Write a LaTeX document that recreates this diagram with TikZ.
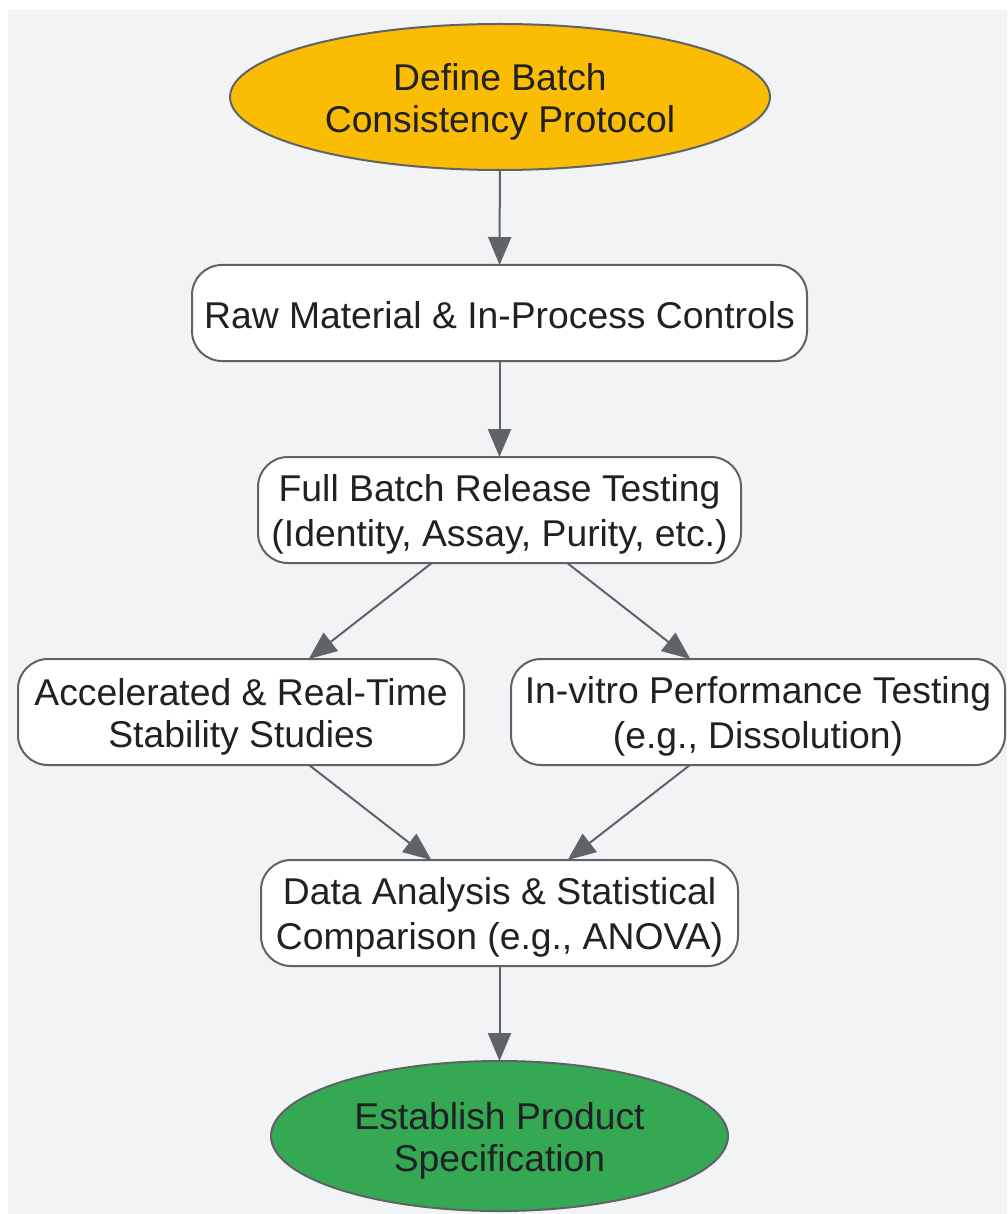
\documentclass[tikz,border=0pt]{standalone}
\usepackage{fontspec}
\setmainfont{Liberation Sans}
\usetikzlibrary{shapes.geometric,arrows.meta}
\definecolor{bgc}{HTML}{F1F3F4}
\definecolor{edgec}{HTML}{5F6368}
\definecolor{txtc}{HTML}{202124}
\definecolor{yel}{HTML}{FBBC04}
\definecolor{grn}{HTML}{34A853}
\newcommand\ls{\rule[-5.8pt]{0pt}{42pt}}
\tikzset{
  base/.style={draw=edgec, line width=2pt, text=txtc, align=center, inner sep=0pt, outer sep=0pt,
    font=\fontsize{37.3}{42}\selectfont},
  proc/.style={base, rectangle, rounded corners=30pt, fill=white},
  term/.style={base, ellipse},
  conn/.style={draw=edgec, line width=2pt, -{Triangle[length=28pt,width=23pt]}}
}
\begin{document}
\begin{tikzpicture}[x=1pt,y=-1pt]
\useasboundingbox (0,0) rectangle (1007,1214);
\fill[white] (0,0) rectangle (1007,1214);
\fill[bgc] (8,10) rectangle (1007,1214);
\node[term, fill=yel, minimum width=540pt, minimum height=146pt] (start) at (500,97) {\ls Define Batch\\\ls Consistency Protocol};
\node[proc, minimum width=615pt, minimum height=96pt] (raw) at (499.5,313) {\ls Raw Material \& In-Process Controls};
\node[proc, minimum width=483pt, minimum height=106pt] (full) at (499.5,510) {\ls Full Batch Release Testing\\\ls (Identity, Assay, Purity, etc.)};
\node[proc, minimum width=446pt, minimum height=106pt] (acc) at (241,712) {\ls Accelerated \& Real-Time\\\ls Stability Studies};
\node[proc, minimum width=494pt, minimum height=106pt] (vit) at (758,712) {\ls In-vitro Performance Testing\\\ls (e.g., Dissolution)};
\node[proc, minimum width=477pt, minimum height=106pt] (data) at (499.5,913) {\ls Data Analysis \& Statistical\\\ls Comparison (e.g., ANOVA)};
\node[term, fill=grn, minimum width=457pt, minimum height=150pt] (spec) at (499.5,1136) {\ls Establish Product\\\ls Specification};
\draw[conn] (start) -- (raw);
\draw[conn] (raw) -- (full);
\draw[conn] (full) -- (acc);
\draw[conn] (full) -- (vit);
\draw[conn] (acc) -- (data);
\draw[conn] (vit) -- (data);
\draw[conn] (data) -- (spec);
\end{tikzpicture}
\end{document}
